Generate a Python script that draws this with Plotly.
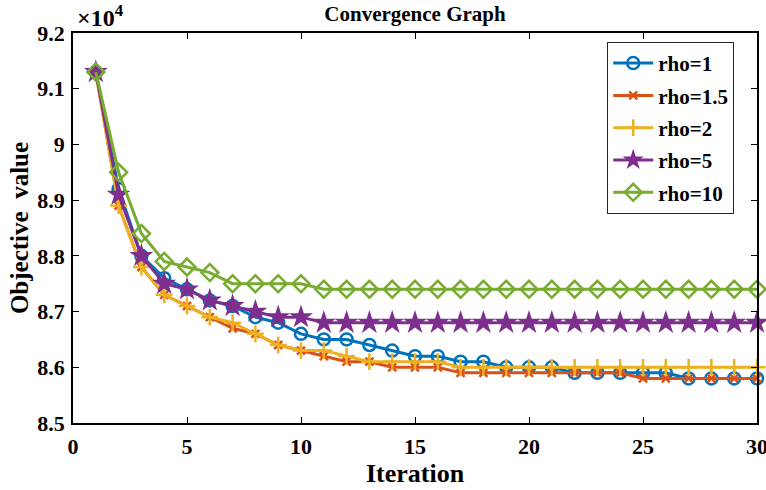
import plotly.graph_objects as go

iterations = list(range(1, 31))
rho1 = [91300, 89200, 88000, 87600, 87400, 87200, 87100, 86900, 86800, 86600,
        86500, 86500, 86400, 86300, 86200, 86200, 86100, 86100, 86000, 86000,
        86000, 85900, 85900, 85900, 85900, 85900, 85800, 85800, 85800, 85800]
rho1_5 = [91300, 88900, 87800, 87300, 87100, 86900, 86700, 86600, 86400, 86300,
          86200, 86100, 86100, 86000, 86000, 86000, 85900, 85900, 85900, 85900,
          85900, 85900, 85900, 85900, 85800, 85800, 85800, 85800, 85800, 85800]
rho2 = [91300, 88900, 87800, 87300, 87100, 86900, 86800, 86600, 86400, 86300,
        86300, 86200, 86100, 86100, 86100, 86100, 86000, 86000, 86000, 86000,
        86000, 86000, 86000, 86000, 86000, 86000, 86000, 86000, 86000, 86000]
rho5 = [91300, 89100, 88000, 87500, 87400, 87200, 87100, 87000, 86900, 86900,
        86800, 86800, 86800, 86800, 86800, 86800, 86800, 86800, 86800, 86800,
        86800, 86800, 86800, 86800, 86800, 86800, 86800, 86800, 86800, 86800]
rho10 = [91300, 89500, 88400, 87900, 87800, 87700, 87500, 87500, 87500, 87500,
         87400, 87400, 87400, 87400, 87400, 87400, 87400, 87400, 87400, 87400,
         87400, 87400, 87400, 87400, 87400, 87400, 87400, 87400, 87400, 87400]

names = ["rho=1", "rho=1.5", "rho=2", "rho=5", "rho=10"]
y_tickvals = [85000, 86000, 87000, 88000, 89000, 90000, 91000, 92000]
y_ticktext = ["8.5", "8.6", "8.7", "8.8", "8.9", "9", "9.1", "9.2"]
x_tickvals = [0, 5, 10, 15, 20, 25, 30]

series = [rho1, rho1_5, rho2, rho5, rho10]
colors = ["#0072BD", "#D95319", "#EDB120", "#7E2F8E", "#77AC30"]
symbols = ["circle-open", "x-thin-open", "cross-thin-open", "star", "diamond-open"]
sizes = [12, 8, 12, 18, 13]

fig = go.Figure()
for name, ys, c, s, sz in zip(names, series, colors, symbols, sizes):
    fig.add_trace(go.Scatter(
        x=iterations, y=ys, name=name, legendgroup=name,
        mode="lines+markers", cliponaxis=False,
        line=dict(color=c, width=3),
        marker=dict(symbol=s, size=sz, color=c,
                    line=dict(color=c, width=2.5 if s != "star" else 0)),
    ))

font_family = "Liberation Serif, Times New Roman, serif"
axis_common = dict(
    showline=True, linecolor="black", linewidth=1.5, mirror="ticks",
    ticks="inside", ticklen=6, tickcolor="black", tickwidth=1,
    showgrid=False, zeroline=False, automargin=False,
    ticklabeloverflow="allow",
    tickfont=dict(family=font_family, size=22, color="black", weight="bold"),
)

W, H = 766, 490
fig.update_layout(
    width=W, height=H,
    margin=dict(l=73, r=9, t=33, b=67, autoexpand=False),
    paper_bgcolor="white", plot_bgcolor="white",
    title=dict(text="<b>Convergence Graph</b>", x=0.5, xref="paper", xanchor="center",
               y=1 - 14 / H, yanchor="middle",
               font=dict(family=font_family, size=21, color="black")),
    xaxis=dict(range=[0, 30], tickvals=x_tickvals, ticklabelstandoff=3,
               title=dict(text="<b>Iteration</b>", standoff=4,
                          font=dict(family=font_family, size=26, color="black")),
               **axis_common),
    yaxis=dict(range=[85000, 92000], tickvals=y_tickvals, ticktext=y_ticktext,
               ticklabelstandoff=2,
               title=dict(text="<b>Objective  value</b>", standoff=2,
                          font=dict(family=font_family, size=25, color="black")),
               **axis_common),
    legend=dict(x=0.781, y=0.977, xanchor="left", yanchor="top",
                bgcolor="white", bordercolor="#262626", borderwidth=1,
                font=dict(family=font_family, size=21, color="black", weight="bold"),
                tracegroupgap=2, itemwidth=40),
    showlegend=True,
    annotations=[dict(text="<b>×10<sup>4</sup></b>", xref="paper", yref="paper",
                      x=0.003, y=1.0, xanchor="left", yanchor="bottom", showarrow=False,
                      font=dict(family=font_family, size=24, color="black"))],
)

fig.write_html("out.html",
               config={"displayModeBar": False},
               post_script="document.body.style.margin='0';document.body.style.overflow='hidden';")
